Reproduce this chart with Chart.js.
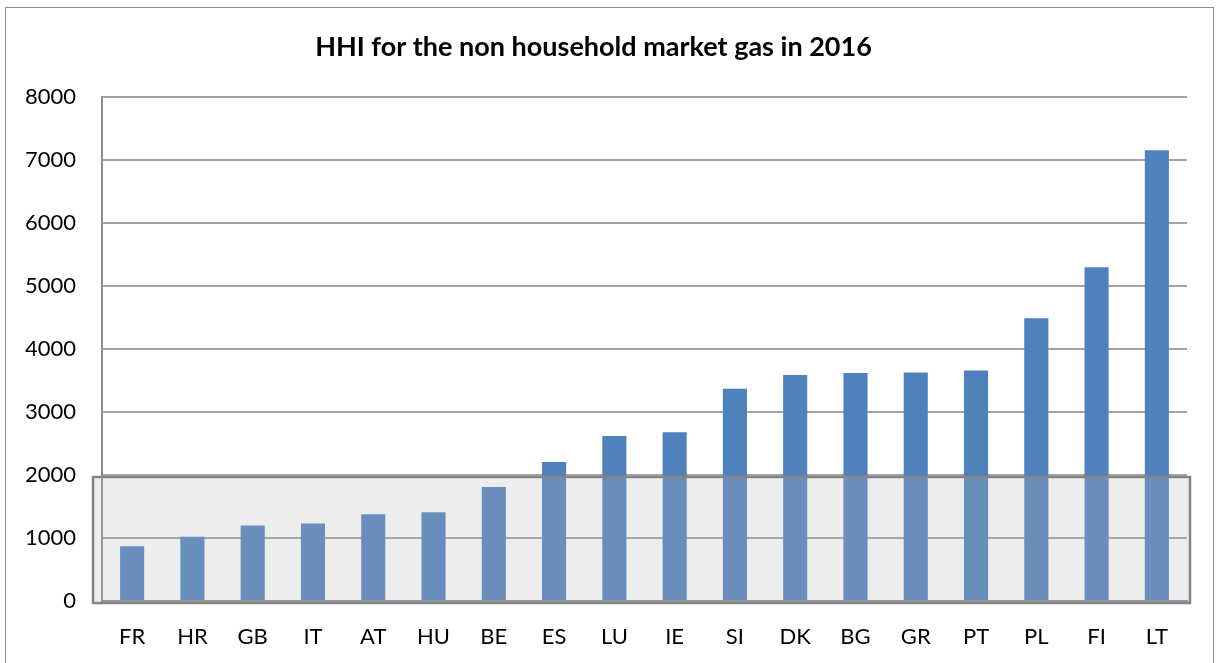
<!DOCTYPE html>
<html>
<head>
<meta charset="utf-8">
<script src="https://cdn.jsdelivr.net/npm/chart.js@4"></script>
<style>
  body { margin: 0; background: #fff; }
  #wrap { position: relative; width: 1216px; height: 663px; }
  #frame { position: absolute; left: 5px; top: 7px; width: 1209px; height: 660px; border: 1px solid #8c8c8c; box-sizing: border-box; }
  canvas { position: absolute; left: 0; top: 0; }
</style>
</head>
<body>
<div id="wrap">
  <div id="frame"></div>
  <canvas id="hhiChart" width="1216" height="663"></canvas>
</div>
<script>
// Data
const countries = ["FR", "HR", "GB", "IT", "AT", "HU", "BE", "ES", "LU", "IE", "SI", "DK", "BG", "GR", "PT", "PL", "FI", "LT"];
const hhiValues = [870, 1020, 1200, 1230, 1380, 1410, 1810, 2210, 2620, 2680, 3370, 3590, 3620, 3630, 3660, 4490, 5300, 7160];
const yTicks = [0, 1000, 2000, 3000, 4000, 5000, 6000, 7000, 8000];
const highlightLimit = 1970; // grey band for "unconcentrated" zone

const FONT = "Lato, 'Open Sans', sans-serif";

// Grey translucent band drawn over the lower bars
const bandPlugin = {
  id: "band",
  afterDatasetsDraw(chart) {
    const { ctx, chartArea, scales } = chart;
    const top = scales.y.getPixelForValue(highlightLimit);
    const bottom = scales.y.getPixelForValue(0) + 2;
    const left = chartArea.left - 9;
    const right = chartArea.right + 3;
    ctx.save();
    ctx.fillStyle = "rgba(183, 183, 183, 0.25)";
    ctx.fillRect(left, top, right - left, bottom - top);
    ctx.strokeStyle = "#858585";
    ctx.lineWidth = 2.5;
    ctx.strokeRect(left, top, right - left, bottom - top);
    ctx.restore();
  },
};

new Chart(document.getElementById("hhiChart"), {
  type: "bar",
  data: {
    labels: countries,
    datasets: [
      {
        label: "HHI",
        data: hhiValues,
        backgroundColor: "#4F81BD",
        barPercentage: 0.4,
        categoryPercentage: 1,
      },
    ],
  },
  options: {
    responsive: false,
    animation: false,
    layout: { padding: { left: 0, right: 29, top: 0, bottom: 0 } },
    plugins: {
      legend: { display: false },
      tooltip: { enabled: false },
      title: {
        display: true,
        text: "HHI for the non household market gas in 2016",
        color: "#000",
        font: { family: FONT, size: 27, weight: "bold" },
        padding: { top: 31, bottom: 34 },
      },
    },
    scales: {
      x: {
        grid: { display: false, drawTicks: false },
        border: { color: "#8c8c8c", width: 2 },
        ticks: {
          color: "#000",
          font: { family: FONT, size: 22 },
          padding: 23,
          maxRotation: 0,
        },
        afterFit(scale) {
          scale.height = 62;
        },
      },
      y: {
        min: 0,
        max: 8000,
        afterBuildTicks(scale) {
          scale.ticks = yTicks.map((v) => ({ value: v }));
        },
        grid: { color: "#a3a3a3", lineWidth: 2, drawTicks: false },
        border: { color: "#8c8c8c", width: 2 },
        ticks: {
          color: "#000",
          font: { family: FONT, size: 22 },
          padding: 26,
          callback: (v) => String(v),
        },
        afterFit(scale) {
          scale.width = 102;
        },
      },
    },
  },
  plugins: [bandPlugin],
});
</script>
</body>
</html>
